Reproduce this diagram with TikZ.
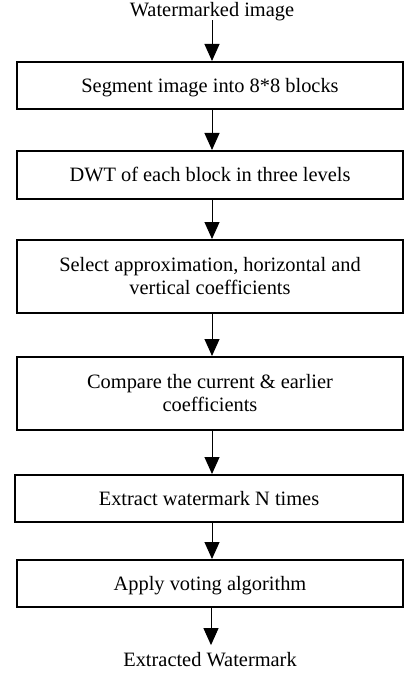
\documentclass[tikz,border=0pt]{standalone}
\usepackage{fontspec}
\setmainfont{Liberation Serif}
\usetikzlibrary{arrows.meta}
\begin{document}
\begin{tikzpicture}[x=1pt,y=-1pt,
  every node/.style={font=\fontsize{20.4}{23.5}\selectfont, inner sep=0pt},
  stepbox/.style={draw, line width=2pt, rectangle, minimum width=386pt,
    align=center, text height=13.4pt, text depth=0pt},
  twoline/.style={stepbox, text height=36.9pt},
  flow/.style={line width=1pt, -{Triangle[length=17pt,width=15pt]}},
  term/.style={text height=13.4pt, text depth=0pt}]
\useasboundingbox (0,0) rectangle (404,676);
\fill[white] (0,0) rectangle (404,676);
\node[term] (in) at (212,9.5) {Watermarked image};
\node[stepbox, minimum height=47pt] (b1) at (210,85.5) {Segment image into 8*8 blocks};
\node[stepbox, minimum height=48pt] (b2) at (210,175) {DWT of each block in three levels};
\node[twoline, minimum height=73pt] (b3) at (210,276.5) {Select approximation, horizontal and\\vertical coefficients};
\node[twoline, minimum height=73pt] (b4) at (210,393.5) {Compare the current \& earlier\\coefficients};
\node[stepbox, minimum height=47pt, minimum width=388pt] (b5) at (209,498.5) {Extract watermark N times};
\node[stepbox, minimum height=47pt] (b6) at (210,583.5) {Apply voting algorithm};
\node[term] (out) at (210,660) {Extracted Watermark};
\draw[flow] ([yshift=-4pt]in.south -| 212,0) -- (b1.north -| 212,0);
\draw[flow] (b1.south -| 212,0) -- (b2.north -| 212,0);
\draw[flow] (b2.south -| 212,0) -- (b3.north -| 212,0);
\draw[flow] (b3.south -| 212,0) -- (b4.north -| 212,0);
\draw[flow] (b4.south -| 212,0) -- (b5.north -| 212,0);
\draw[flow] (b5.south -| 212,0) -- (b6.north -| 212,0);
\draw[flow] (b6.south -| 211,0) -- ([yshift=8pt]out.north -| 211,0);
\end{tikzpicture}
\end{document}
